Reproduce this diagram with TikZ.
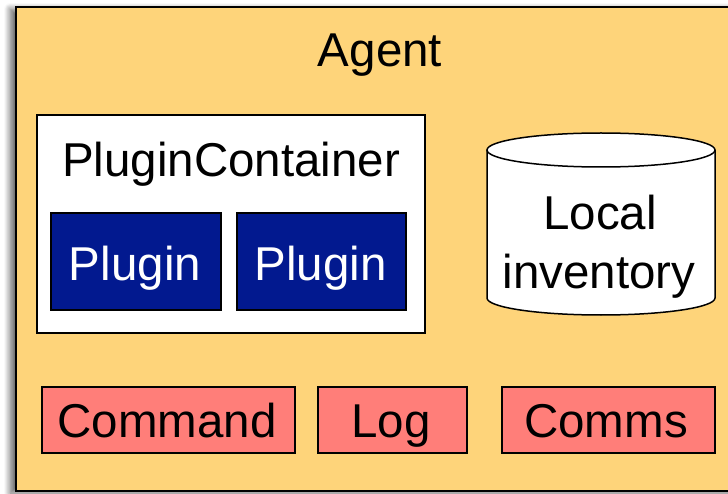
\documentclass[tikz,border=0pt]{standalone}
\usepackage{fontspec}
\setmainfont{Liberation Sans}
\usetikzlibrary{shadows.blur}
\definecolor{agentyellow}{HTML}{FED47A}
\definecolor{pluginblue}{HTML}{02198F}
\definecolor{salmonbox}{HTML}{FF7E79}
\tikzset{
  box/.style={draw=black, line width=1.5pt, inner sep=0pt, anchor=center},
  lbl/.style={inner sep=0pt, anchor=base, font=\fontsize{47.5}{56}\selectfont},
  redbox/.style={box, fill=salmonbox, minimum height=66pt},
}
\begin{document}
\begin{tikzpicture}[x=1pt,y=-1pt]
\useasboundingbox (0,0) rectangle (728,494);
\node[box, line width=2pt, fill=agentyellow, minimum width=724pt, minimum height=484pt,
  blur shadow={shadow xshift=-6pt, shadow yshift=-2pt, shadow blur radius=6pt, shadow blur steps=8, shadow opacity=60}] (agent) at (378,249) {};
\node[lbl] (agentlbl) at (380,67) {Agent};
\node[box, fill=white, minimum width=388pt, minimum height=218pt] (container) at (231,224) {};
\node[lbl] (containerlbl) at (231,177) {PluginContainer};
\node[box, fill=pluginblue, minimum width=170pt, minimum height=97pt] (plugina) at (136,261.5) {};
\node[lbl, text=white] (pluginalbl) at (135,280) {Plugin};
\node[box, fill=pluginblue, minimum width=169pt, minimum height=97pt] (pluginb) at (321.5,261.5) {};
\node[lbl, text=white] (pluginblbl) at (320.5,280) {Plugin};
% cylinder
\coordinate (cyltop) at (601,150);
\coordinate (cylbot) at (601,298);
\fill[white] (487,150) -- (487,298) arc[start angle=180, end angle=360, x radius=114, y radius=-17] -- (715,150) arc[start angle=0, end angle=180, x radius=114, y radius=-17] -- cycle;
\draw[line width=1.5pt] (cyltop) ellipse[x radius=114, y radius=17];
\draw[line width=1.5pt] (487,150) -- (487,298) arc[start angle=180, end angle=360, x radius=114, y radius=-17] -- (715,150);
\node[lbl] (locallbl) at (600,230) {Local};
\node[lbl] (invlbl) at (599,289) {inventory};
% bottom boxes
\node[redbox, minimum width=253pt] (command) at (168.5,420) {};
\node[lbl] (commandlbl) at (167,437) {Command};
\node[redbox, minimum width=149pt] (log) at (392.5,420) {};
\node[lbl] (loglbl) at (391,437) {Log};
\node[redbox, minimum width=213pt] (comms) at (608.5,420) {};
\node[lbl] (commslbl) at (606,437) {Comms};
\end{tikzpicture}
\end{document}
